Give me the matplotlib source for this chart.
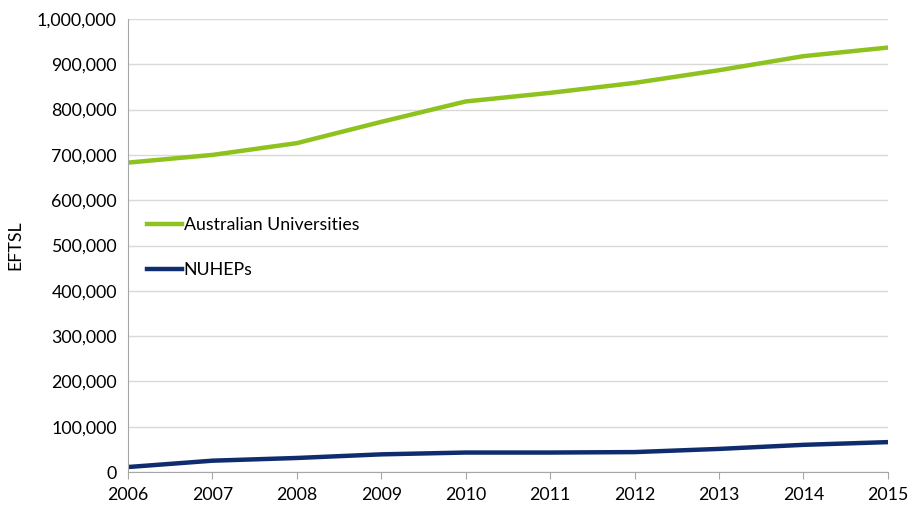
import matplotlib
matplotlib.use("Agg")
from matplotlib import pyplot as plt
from matplotlib.ticker import FuncFormatter

#data
years = [2006, 2007, 2008, 2009, 2010, 2011, 2012, 2013, 2014, 2015]
unis = [683000, 700000, 726000, 773000, 818000, 837000, 859000, 887000, 918000, 937000]
nuheps = [11000, 25000, 31000, 39000, 43000, 43000, 44000, 51000, 60000, 66000]

plt.rcParams["font.family"] = ["Lato", "DejaVu Sans"]
plt.rcParams["font.size"] = 12.8

fig = plt.figure(figsize=(9.09, 5.07), dpi=100)
ax = fig.add_axes([0.1408, 0.069, 0.836, 0.8935])

ax.plot(years, unis, color="#8DC21F", lw=3.2, label="Australian Universities")
ax.plot(years, nuheps, color="#0F2D6E", lw=3.2, label="NUHEPs")

ax.set_xlim(2006, 2015)
ax.set_ylim(0, 1000000)
ax.set_xticks(years)
ax.set_yticks(range(0, 1000001, 100000))
ax.yaxis.set_major_formatter(FuncFormatter(lambda v, p: "{:,.0f}".format(v)))
ax.grid(axis="y", color="#D9D9D9", lw=1)
ax.set_axisbelow(True)
ax.set_ylabel("EFTSL", labelpad=10)

for s in ["top", "right"]:
    ax.spines[s].set_visible(False)
ax.spines["left"].set_color("#A6A6A6")
ax.spines["bottom"].set_color("#A6A6A6")
ax.tick_params(axis="y", length=0, pad=8)
ax.tick_params(axis="x", length=5, color="#A6A6A6", pad=6)

ax.legend(loc="upper left", bbox_to_anchor=(0.154, 0.586), bbox_transform=fig.transFigure,
          frameon=False, handlelength=1.95, handletextpad=0.1, labelspacing=1.65, borderaxespad=0)

fig.savefig("out.png", dpi=100)
